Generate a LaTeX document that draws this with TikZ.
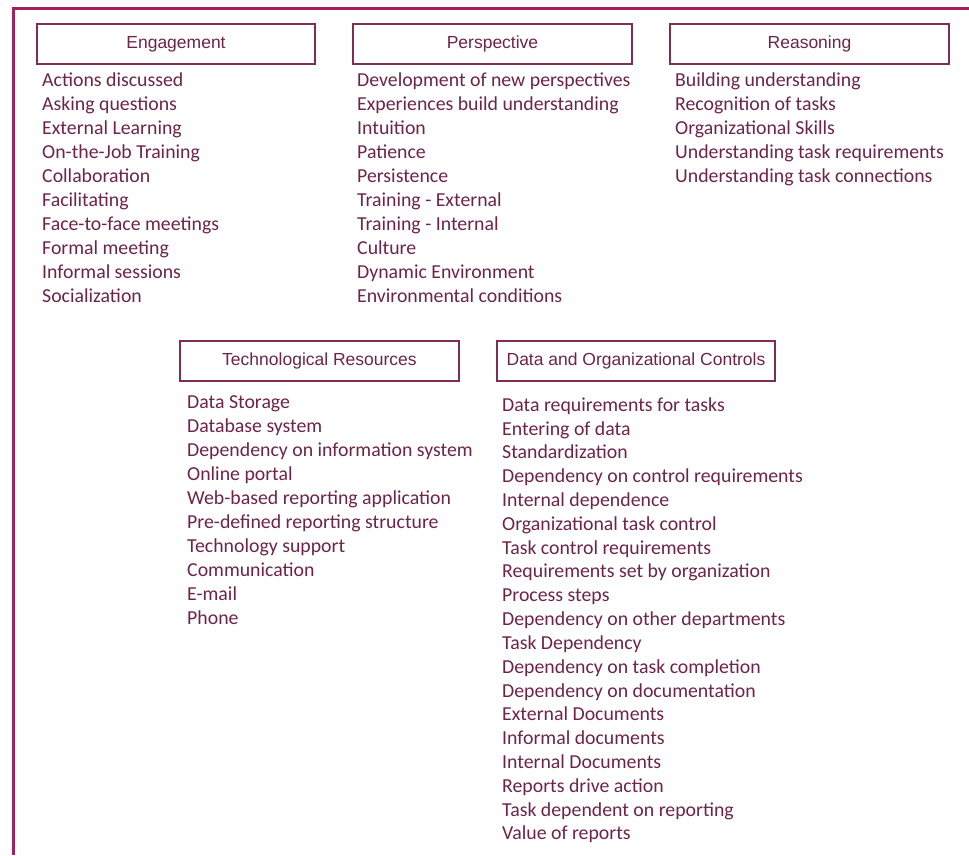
\documentclass[tikz,border=0pt]{standalone}
\usepackage{fontspec}
\setmainfont{Carlito}
\newfontfamily\hdrfont{Liberation Sans}
\definecolor{frame}{HTML}{A3215F}
\definecolor{boxline}{HTML}{7E2E52}
\definecolor{txt}{HTML}{6E2348}
\begin{document}
\begin{tikzpicture}[x=1pt,y=-1pt,
  hdr/.style={draw=boxline,line width=1.1pt,inner sep=0pt,text=txt,font=\hdrfont\fontsize{17.5}{19}\selectfont},
  item/.style={anchor=mid west,inner sep=0pt,text=txt,font=\fontsize{19.8}{22}\selectfont}]
\useasboundingbox (0,0) rectangle (969,855);
\draw[frame,line width=3pt] (13,855) |- (969,8);
% headers
\node[hdr,minimum width=278pt,minimum height=40pt] (eng) at (176,44) {\raisebox{-1.5pt}{Engagement}};
\node[hdr,minimum width=279pt,minimum height=40pt] (per) at (492.5,44) {\raisebox{-1.5pt}{Perspective}};
\node[hdr,minimum width=279pt,minimum height=40pt] (rea) at (809.5,44) {\raisebox{-1.5pt}{Reasoning}};
\node[hdr,minimum width=279pt,minimum height=40pt] (tec) at (319.5,361) {\raisebox{-1.5pt}{Technological Resources}};
\node[hdr,minimum width=278pt,minimum height=40pt] (dat) at (636,361) {\raisebox{-1.5pt}{Data and Organizational Controls}};
% Engagement
\foreach \t [count=\i from 0] in {Actions discussed,Asking questions,External Learning,On-the-Job Training,Collaboration,Facilitating,Face-to-face meetings,Formal meeting,Informal sessions,Socialization}
  \node[item] (e\i) at (42,84+24*\i) {\t};
% Perspective
\foreach \t [count=\i from 0] in {Development of new perspectives,Experiences build understanding,Intuition,Patience,Persistence,Training - External,Training - Internal,Culture,Dynamic Environment,Environmental conditions}
  \node[item] (p\i) at (357,84+24*\i) {\t};
% Reasoning
\foreach \t [count=\i from 0] in {Building understanding,Recognition of tasks,Organizational Skills,Understanding task requirements,Understanding task connections}
  \node[item] (r\i) at (675,84+24*\i) {\t};
% Technological Resources
\foreach \t [count=\i from 0] in {Data Storage,Database system,Dependency on information system,Online portal,Web-based reporting application,Pre-defined reporting structure,Technology support,Communication,E-mail,Phone}
  \node[item] (t\i) at (187,406+24*\i) {\t};
% Data and Organizational Controls
\foreach \t [count=\i from 0] in {Data requirements for tasks,Entering of data,Standardization,Dependency on control requirements,Internal dependence,Organizational task control,Task control requirements,Requirements set by organization,Process steps,Dependency on other departments,Task Dependency,Dependency on task completion,Dependency on documentation,External Documents,Informal documents,Internal Documents,Reports drive action,Task dependent on reporting,Value of reports}
  \node[item] (d\i) at (502,409+23.8*\i) {\t};
\end{tikzpicture}
\end{document}
